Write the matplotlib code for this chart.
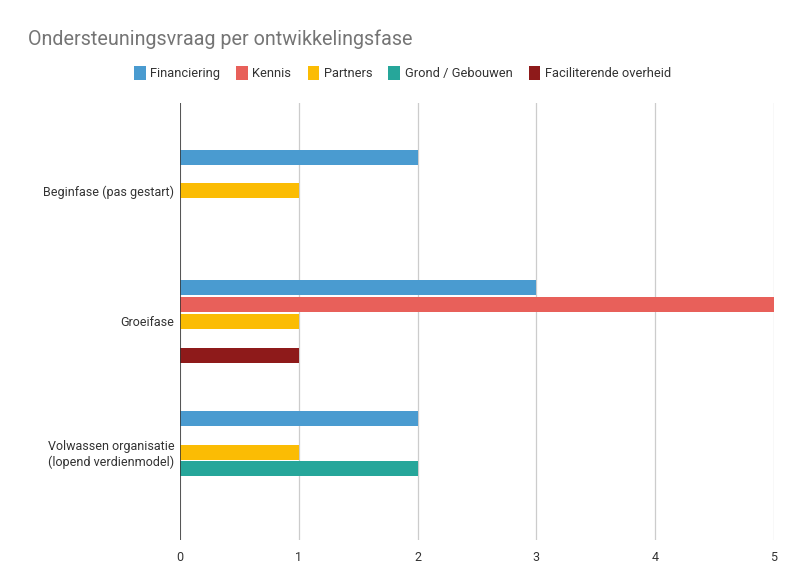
import matplotlib
matplotlib.use("Agg")
import matplotlib.pyplot as plt
import numpy as np
from matplotlib.patches import Patch

plt.rcParams['font.family'] = ['Roboto', 'DejaVu Sans']

categories = ["Beginfase (pas gestart)", "Groeifase", "Volwassen organisatie\n(lopend verdienmodel)"]
series_names = ["Financiering", "Kennis", "Partners", "Grond / Gebouwen", "Faciliterende overheid"]
financiering = [2, 3, 2]
kennis = [0, 5, 0]
partners = [1, 1, 1]
grond = [0, 0, 2]
faciliterend = [0, 1, 0]
colors = ["#4a9bd0", "#e8605a", "#fbbc04", "#26a69a", "#8e1a1a"]
xticks = [0, 1, 2, 3, 4, 5]

series = [financiering, kennis, partners, grond, faciliterend]

fig = plt.figure(figsize=(8, 5.75), dpi=100)
ax = fig.add_axes([0.225, 0.0609, 0.7425, 0.76])

slot = 0.13
bh = 0.115
y = np.arange(len(categories))
for i, (vals, c) in enumerate(zip(series, colors)):
    offs = (i - 2) * slot
    ax.barh(y + offs, vals, height=bh, color=c, zorder=3, linewidth=0)

ax.set_xlim(0, 5)
ax.set_ylim(2.674, -0.674)
ax.set_xticks(xticks)
ax.set_xticklabels([str(t) for t in xticks])
ax.set_yticks(y)
ax.set_yticklabels(categories, fontsize=9, color="#222222")
ax.tick_params(axis='both', length=0, labelsize=9, colors="#333333")
ax.tick_params(axis='x', pad=8)
ax.tick_params(axis='y', pad=4)
ax.grid(axis='x', color="#cccccc", linewidth=0.9, zorder=0)
for s in ax.spines.values():
    s.set_visible(False)
ax.axvline(0, color="#333333", linewidth=1.1, zorder=4)

fig.text(0.035, 0.932, "Ondersteuningsvraag per ontwikkelingsfase", fontsize=14.2,
         color="#757575", va='center', ha='left')

handles = [Patch(facecolor=c, edgecolor='none') for c in colors]
fig.legend(handles, series_names, loc='center', bbox_to_anchor=(0.503, 0.873), ncol=5,
           frameon=False, fontsize=9.3, handlelength=0.9, handleheight=1.3,
           columnspacing=1.25, handletextpad=0.35, labelcolor="#333333")

fig.savefig("out.png", dpi=100)
